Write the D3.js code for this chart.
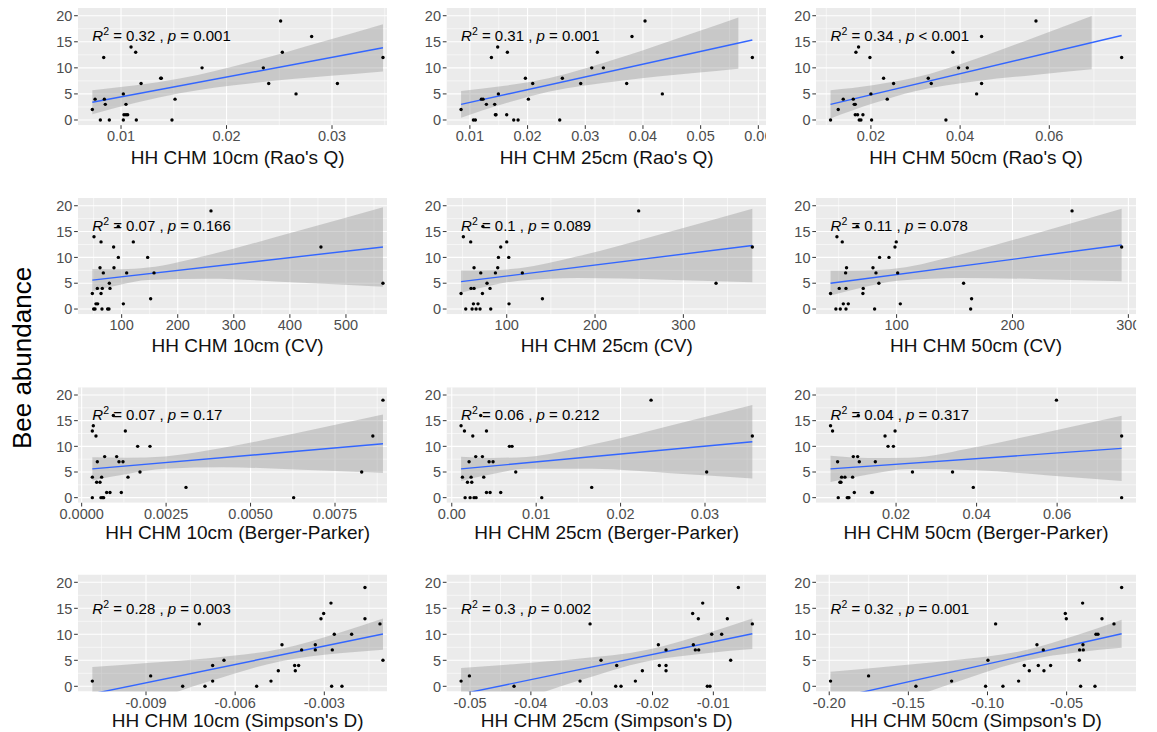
<!DOCTYPE html>
<html><head><meta charset="utf-8">
<script src="https://cdn.jsdelivr.net/npm/d3@7"></script>
<style>body{margin:0;background:#fff} svg{display:block}</style>
</head><body>
<svg id="chart" width="1157" height="732"></svg>
<script>
// ---------------- DATA ----------------
const yTicks = [0, 5, 10, 15, 20];
const yLabel = "Bee abundance";
const resolutions = ["10cm", "25cm", "50cm"];
const metrics = ["Rao's Q", "CV", "Berger-Parker", "Simpson's D"];

// Rao's Q
const rao10 = [[0.00728,2],[0.00754,4],[0.00804,0],[0.00836,12],[0.00842,4],[0.00851,3],[0.00889,0],[0.01022,5],[0.01022,0],[0.01028,1],[0.01047,3],[0.01047,1],[0.01063,1],[0.01095,14],[0.01139,13],[0.01145,0],[0.0119,7],[0.01376,8],[0.01382,8],[0.01483,0],[0.01512,4],[0.01768,10],[0.02349,10],[0.024,7],[0.02513,19],[0.02529,13],[0.02659,5],[0.02807,16],[0.03051,7],[0.03483,12]];
const rao25 = [[0.00847,2],[0.01061,0],[0.01095,0],[0.01199,4],[0.01228,4],[0.01286,3],[0.01373,12],[0.0143,3],[0.01453,1],[0.01442,1],[0.01482,14],[0.01494,5],[0.01638,1],[0.0165,13],[0.0176,0],[0.01835,0],[0.01962,8],[0.02014,4],[0.02089,7],[0.02557,0],[0.02603,8],[0.02921,7],[0.03112,10],[0.0321,13],[0.03314,10],[0.03718,7],[0.0381,16],[0.04036,19],[0.04336,5],[0.05896,12]];
const rao50 = [[0.01095,0],[0.01267,2],[0.01379,4],[0.01604,4],[0.01626,3],[0.01649,3],[0.01664,13],[0.01649,1],[0.01701,1],[0.01723,14],[0.01738,0],[0.01776,0],[0.01821,1],[0.01978,12],[0.02,5],[0.02015,0],[0.02284,8],[0.02366,4],[0.02508,7],[0.03286,8],[0.03353,7],[0.03682,0],[0.03839,13],[0.03966,10],[0.04161,10],[0.0437,5],[0.04482,16],[0.04482,7],[0.05701,19],[0.07622,12]];
// CV
const cv10 = [[47.7,3],[50.1,0],[52.5,0],[50.7,14],[54.2,1],[57.2,1],[56.6,4],[61.4,8],[63.2,13],[63.2,3],[65.5,4],[64.9,0],[67.3,7],[75,0],[77.4,0],[78,5],[79.2,4],[85.7,12],[86.3,8],[94.1,10],[103,1],[108.9,7],[120.8,13],[146.4,10],[151.7,2],[157.7,7],[259.3,19],[455.4,12],[566,5],[94,16]];
const cv25 = [[48.3,3],[50.9,14],[53.6,0],[59.2,13],[59.6,4],[63,4],[60.8,0],[63,8],[62.3,1],[65.3,0],[67.5,1],[69.8,0],[70.6,7],[72.5,3],[77.7,5],[81.1,4],[81.9,0],[87.2,7],[89.8,8],[90.6,10],[93.2,12],[100,13],[102.3,10],[102.6,1],[117.7,7],[140.4,2],[249.4,19],[337,5],[378.1,12],[73,16]];
const cv50 = [[43,3],[47.6,0],[48.5,14],[50.5,4],[51.4,0],[53.1,13],[54,1],[56,7],[56.3,4],[56.8,8],[56.3,0],[58.3,1],[71.2,4],[70.9,3],[79.6,8],[81,0],[82.2,7],[84.7,5],[85.3,10],[93.4,10],[98.6,12],[99.7,13],[100.9,7],[103.2,1],[157.8,5],[164.7,2],[163.9,0],[251.4,19],[294.2,12],[66,16]];
// Berger-Parker
const bp10 = [[0.000316,0],[0.000316,4],[0.000316,13],[0.000345,14],[0.000424,12],[0.000444,3],[0.000464,7],[0.000543,3],[0.000592,4],[0.000572,0],[0.000622,0],[0.000651,0],[0.000681,8],[0.00074,1],[0.000839,1],[0.001036,8],[0.001105,7],[0.001224,7],[0.001174,1],[0.001293,13],[0.001372,4],[0.000938,16],[0.001658,10],[0.001727,5],[0.002023,10],[0.003089,2],[0.006276,0],[0.00829,5],[0.00862,12],[0.00892,19]];
const bp25 = [[0.0011,14],[0.00126,4],[0.0015,13],[0.00158,0],[0.00186,3],[0.00205,7],[0.00217,0],[0.00237,3],[0.00229,4],[0.00249,12],[0.00264,0],[0.00288,0],[0.00284,8],[0.00343,16],[0.00363,8],[0.00379,4],[0.00411,13],[0.00411,1],[0.00454,1],[0.00442,7],[0.00489,7],[0.0058,1],[0.00683,10],[0.00714,10],[0.00758,5],[0.01066,0],[0.01658,2],[0.02361,19],[0.0302,5],[0.03561,12]];
const bp50 = [[0.00373,14],[0.00423,13],[0.00548,7],[0.00564,0],[0.00606,3],[0.00631,3],[0.00647,4],[0.0073,4],[0.00788,0],[0.00809,0],[0.0083,0],[0.00921,4],[0.00938,8],[0.00963,1],[0.01046,8],[0.01087,7],[0.01394,1],[0.01411,1],[0.01485,7],[0.01726,12],[0.01801,10],[0.01934,10],[0.01975,13],[0.02407,5],[0.03402,5],[0.03917,2],[0.05983,19],[0.07602,12],[0.07602,0],[0.01062,16]];
// Simpson's D
const sd10 = [[-0.010806,1],[-0.008843,2],[-0.007766,0],[-0.007206,12],[-0.007015,0],[-0.006757,4],[-0.006757,1],[-0.006376,5],[-0.005277,0],[-0.004794,1],[-0.004548,3],[-0.004424,8],[-0.003998,4],[-0.003976,3],[-0.003864,4],[-0.003763,7],[-0.003303,7],[-0.003303,8],[-0.003112,13],[-0.003022,14],[-0.002776,16],[-0.002731,7],[-0.002753,0],[-0.002664,10],[-0.002406,0],[-0.00208,10],[-0.001632,19],[-0.001632,13],[-0.001127,12],[-0.001026,5]];
const sd25 = [[-0.05148,1],[-0.05011,2],[-0.04277,0],[-0.03192,1],[-0.03027,12],[-0.02847,5],[-0.02605,0],[-0.02589,4],[-0.02518,0],[-0.02282,1],[-0.02167,3],[-0.01904,8],[-0.01888,4],[-0.01778,7],[-0.01778,4],[-0.01778,3],[-0.0134,14],[-0.01329,8],[-0.01296,7],[-0.01241,7],[-0.01247,13],[-0.01175,16],[-0.01099,0],[-0.01055,0],[-0.01027,10],[-0.00863,10],[-0.0077,13],[-0.00715,5],[-0.00589,19],[-0.00359,12]];
const sd50 = [[-0.19916,1],[-0.17514,2],[-0.14522,0],[-0.12268,1],[-0.1012,0],[-0.09972,5],[-0.09487,12],[-0.09024,0],[-0.08034,1],[-0.07676,4],[-0.0736,3],[-0.06875,8],[-0.06791,4],[-0.06475,7],[-0.06433,3],[-0.06011,4],[-0.05084,14],[-0.05021,13],[-0.042,5],[-0.04179,7],[-0.04115,0],[-0.03989,16],[-0.03968,8],[-0.03947,7],[-0.03209,0],[-0.03146,10],[-0.0302,10],[-0.02767,13],[-0.02009,12],[-0.01524,19]];

// Fitted lines (start, end)
const rao10Fit = [[0.00728,3.4],[0.03483,13.85]];
const rao25Fit = [[0.00847,3.0],[0.05896,15.35]];
const rao50Fit = [[0.01095,3.0],[0.07622,16.2]];
const cv10Fit = [[47.7,5.6],[566,12.0]];
const cv25Fit = [[48.3,5.3],[378.1,12.3]];
const cv50Fit = [[43,5.0],[294.2,12.4]];
const bp10Fit = [[0.000316,5.6],[0.00892,10.5]];
const bp25Fit = [[0.0011,5.6],[0.03561,10.9]];
const bp50Fit = [[0.00373,5.6],[0.07602,9.6]];
const sd10Fit = [[-0.010806,-1.45],[-0.001026,10.05]];
const sd25Fit = [[-0.05148,-1.5],[-0.00359,10.1]];
const sd50Fit = [[-0.19916,-2.5],[-0.01524,10.1]];

// Confidence bands [x, lower, upper]
const rao10Band = [[0.00728,1.08,5.72],[0.01141,3.29,6.65],[0.01555,5.14,7.94],[0.02243,7.07,11.23],[0.02932,8.37,15.15],[0.03483,9.32,18.38]];
const rao25Band = [[0.00847,0.45,5.55],[0.01604,3.15,6.55],[0.02362,5.41,8.01],[0.03624,7.55,12.03],[0.04886,9.01,16.75],[0.05654,9.84,19.68]];
const rao50Band = [[0.01095,0.3,5.7],[0.02074,3.25,6.71],[0.02988,5.53,8.13],[0.04359,7.45,11.75],[0.05664,8.65,15.83],[0.0695,9.72,19.96]];
const cv10Band = [[47.7,3.45,7.75],[99.5,4.77,7.71],[146.2,5.62,8.02],[255,5.85,10.47],[410.5,5.15,15.01],[566,4.3,19.7]];
const cv25Band = [[48.3,3.15,7.45],[81.3,4.5,7.5],[114.3,5.5,7.9],[180.2,6.0,10.2],[279.2,5.68,14.72],[378.1,5.2,19.4]];
const cv50Band = [[43,2.6,7.4],[73.1,4.33,7.45],[100.8,5.5,7.9],[156,6.03,10.63],[223.9,5.79,14.87],[294.2,5.4,19.4]];
const bp10Band = [[0.000316,3.35,7.85],[0.001348,4.62,7.76],[0.002467,5.63,8.03],[0.004188,5.92,9.7],[0.006511,5.46,12.8],[0.00892,4.8,16.2]];
const bp25Band = [[0.0011,3.25,7.95],[0.004551,4.51,7.75],[0.008865,5.64,7.94],[0.01663,5.64,10.34],[0.02595,4.77,14.07],[0.03561,3.75,18.05]];
const bp50Band = [[0.00373,3.05,8.15],[0.01313,4.5,7.74],[0.02325,5.58,7.78],[0.03988,5.34,9.86],[0.05795,4.34,12.86],[0.07602,3.25,15.95]];
const sd10Band = [[-0.010806,-6.6,3.7],[-0.00885,-2.81,4.51],[-0.006894,0.9,5.4],[-0.004498,4.77,7.17],[-0.002493,6.34,10.32],[-0.001026,7.05,13.05]];
const sd25Band = [[-0.05148,-6.5,3.5],[-0.0419,-2.71,4.35],[-0.03232,1.0,5.28],[-0.02083,4.82,7.02],[-0.01077,6.42,10.3],[-0.00359,7.15,13.05]];
const sd50Band = [[-0.19916,-7.8,2.8],[-0.16238,-3.78,3.82],[-0.12191,0.59,4.99],[-0.07501,5.01,7.01],[-0.04283,6.53,9.89],[-0.01524,7.4,12.8]];

// x-axis ticks and their labels
const rao10Ticks = [0.01,0.02,0.03];            const rao10TickLabels = ["0.01","0.02","0.03"];
const rao25Ticks = [0.01,0.02,0.03,0.04,0.05,0.06]; const rao25TickLabels = ["0.01","0.02","0.03","0.04","0.05","0.06"];
const rao50Ticks = [0.02,0.04,0.06];            const rao50TickLabels = ["0.02","0.04","0.06"];
const cv10Ticks = [100,200,300,400,500];        const cv10TickLabels = ["100","200","300","400","500"];
const cv25Ticks = [100,200,300];                const cv25TickLabels = ["100","200","300"];
const cv50Ticks = [100,200,300];                const cv50TickLabels = ["100","200","300"];
const bp10Ticks = [0,0.0025,0.005,0.0075];      const bp10TickLabels = ["0.0000","0.0025","0.0050","0.0075"];
const bp25Ticks = [0,0.01,0.02,0.03];           const bp25TickLabels = ["0.00","0.01","0.02","0.03"];
const bp50Ticks = [0.02,0.04,0.06];             const bp50TickLabels = ["0.02","0.04","0.06"];
const sd10Ticks = [-0.009,-0.006,-0.003];       const sd10TickLabels = ["-0.009","-0.006","-0.003"];
const sd25Ticks = [-0.05,-0.04,-0.03,-0.02,-0.01]; const sd25TickLabels = ["-0.05","-0.04","-0.03","-0.02","-0.01"];
const sd50Ticks = [-0.2,-0.15,-0.1,-0.05];      const sd50TickLabels = ["-0.20","-0.15","-0.10","-0.05"];

// regression statistics
const statR2 = ["0.32","0.31","0.34","0.07","0.1","0.11","0.07","0.06","0.04","0.28","0.3","0.32"];
const statP  = ["= 0.001","= 0.001","< 0.001","= 0.166","= 0.089","= 0.078","= 0.17","= 0.212","= 0.317","= 0.003","= 0.002","= 0.001"];

// ---------------- PANELS ----------------
const panelData = [
  [rao10, rao10Fit, rao10Band, rao10Ticks, rao10TickLabels],
  [rao25, rao25Fit, rao25Band, rao25Ticks, rao25TickLabels],
  [rao50, rao50Fit, rao50Band, rao50Ticks, rao50TickLabels],
  [cv10, cv10Fit, cv10Band, cv10Ticks, cv10TickLabels],
  [cv25, cv25Fit, cv25Band, cv25Ticks, cv25TickLabels],
  [cv50, cv50Fit, cv50Band, cv50Ticks, cv50TickLabels],
  [bp10, bp10Fit, bp10Band, bp10Ticks, bp10TickLabels],
  [bp25, bp25Fit, bp25Band, bp25Ticks, bp25TickLabels],
  [bp50, bp50Fit, bp50Band, bp50Ticks, bp50TickLabels],
  [sd10, sd10Fit, sd10Band, sd10Ticks, sd10TickLabels],
  [sd25, sd25Fit, sd25Band, sd25Ticks, sd25TickLabels],
  [sd50, sd50Fit, sd50Band, sd50Ticks, sd50TickLabels]
];

// layout
const colLayout = [{l:77.8, r:397.5, crop:387}, {l:446.5, r:766.9, crop:766}, {l:816, r:1136.2, crop:1137}];
const rowLayout = [{top:7.9, bottom:125.2, labY:16.2}, {top:198, bottom:314.2, labY:16.2}, {top:387.3, bottom:502.8, labY:16.2}, {top:574.5, bottom:691.5, labY:15.0}];
const titleOffset = [32, 31, 29.5, 28.5];
const yDomain = [-1, 21.5];

const font = "'Liberation Sans', Arial, Helvetica, sans-serif";
const svg = d3.select('#chart').style('font-family', font);
const defs = svg.append('defs');

panelData.forEach((pd, i) => {
  const [pts, fit, band, ticks, tickLabels] = pd;
  const row = Math.floor(i / 3), col = i % 3;
  const C = colLayout[col], R = rowLayout[row];
  const ext = d3.extent(pts, d => d[0]);
  const pad = (ext[1] - ext[0]) * 0.05;
  const x = d3.scaleLinear().domain([ext[0] - pad, ext[1] + pad]).range([C.l, C.r]);
  const y = d3.scaleLinear().domain(yDomain).range([R.bottom, R.top]);
  const visR = Math.min(C.r, C.crop);

  const cid = 'clip' + i, cid2 = 'clipx' + i;
  defs.append('clipPath').attr('id', cid).append('rect')
    .attr('x', C.l).attr('y', R.top).attr('width', visR - C.l).attr('height', R.bottom - R.top);
  defs.append('clipPath').attr('id', cid2).append('rect')
    .attr('x', C.l - 40).attr('y', R.top).attr('width', visR - C.l + 40).attr('height', R.bottom - R.top + 30);

  const g = svg.append('g');
  const plot = g.append('g').attr('clip-path', `url(#${cid})`);
  plot.append('rect').attr('x', C.l).attr('y', R.top).attr('width', visR - C.l).attr('height', R.bottom - R.top).attr('fill', '#EBEBEB');

  // minor grid
  const step = ticks[1] - ticks[0];
  const xMinor = [];
  for (let k = -1; k < ticks.length; k++) {
    const v = ticks[0] + step * (k + 0.5);
    const dm = x.domain();
    if (v > dm[0] && v < dm[1]) xMinor.push(v);
  }
  const yMinor = [2.5, 7.5, 12.5, 17.5];
  plot.selectAll('.xmin').data(xMinor).enter().append('line')
    .attr('x1', d => x(d)).attr('x2', d => x(d)).attr('y1', R.top).attr('y2', R.bottom)
    .attr('stroke', '#fff').attr('stroke-width', 0.55);
  plot.selectAll('.ymin').data(yMinor).enter().append('line')
    .attr('x1', C.l).attr('x2', visR).attr('y1', d => y(d)).attr('y2', d => y(d))
    .attr('stroke', '#fff').attr('stroke-width', 0.55);
  plot.selectAll('.xmaj').data(ticks).enter().append('line')
    .attr('x1', d => x(d)).attr('x2', d => x(d)).attr('y1', R.top).attr('y2', R.bottom)
    .attr('stroke', '#fff').attr('stroke-width', 1.1);
  plot.selectAll('.ymaj').data(yTicks).enter().append('line')
    .attr('x1', C.l).attr('x2', visR).attr('y1', d => y(d)).attr('y2', d => y(d))
    .attr('stroke', '#fff').attr('stroke-width', 1.1);

  // ribbon
  const area = d3.area().x(d => x(d[0])).y0(d => y(d[1])).y1(d => y(d[2])).curve(d3.curveMonotoneX);
  plot.append('path').datum(band).attr('d', area).attr('fill', '#999999').attr('fill-opacity', 0.42);
  // fit line
  const line = d3.line().x(d => x(d[0])).y(d => y(d[1]));
  plot.append('path').datum(fit).attr('d', line).attr('fill', 'none').attr('stroke', '#3366FF').attr('stroke-width', 1.4);
  // points
  plot.selectAll('circle').data(pts).enter().append('circle')
    .attr('cx', d => x(d[0])).attr('cy', d => y(d[1])).attr('r', 1.7).attr('fill', '#000');

  // stat label
  const lab = plot.append('text').attr('x', x(ext[0])).attr('y', y(R.labY)).attr('dy', '0.36em')
    .attr('font-size', 15).attr('fill', '#000');
  lab.append('tspan').attr('font-style', 'italic').text('R');
  lab.append('tspan').attr('font-size', 10.5).attr('dy', -6).text('2');
  lab.append('tspan').attr('dy', 6).text(' = ' + statR2[i] + ' , ');
  lab.append('tspan').attr('font-style', 'italic').text('p');
  lab.append('tspan').text(' ' + statP[i]);

  // y axis
  const ya = g.append('g');
  ya.selectAll('line').data(yTicks).enter().append('line')
    .attr('x1', C.l - 3.7).attr('x2', C.l).attr('y1', d => y(d)).attr('y2', d => y(d))
    .attr('stroke', '#333').attr('stroke-width', 1);
  ya.selectAll('text').data(yTicks).enter().append('text')
    .attr('x', C.l - 5.5).attr('y', d => y(d)).attr('dy', '0.36em').attr('text-anchor', 'end')
    .attr('font-size', 14.5).attr('fill', '#4D4D4D').text(d => d);

  // x axis
  const xa = g.append('g').attr('clip-path', `url(#${cid2})`);
  xa.selectAll('line').data(ticks).enter().append('line')
    .attr('x1', d => x(d)).attr('x2', d => x(d)).attr('y1', R.bottom).attr('y2', R.bottom + 3.7)
    .attr('stroke', '#333').attr('stroke-width', 1);
  xa.selectAll('text').data(ticks).enter().append('text')
    .attr('x', d => x(d)).attr('y', R.bottom + 5).attr('dy', '0.76em').attr('text-anchor', 'middle')
    .attr('font-size', 14.5).attr('fill', '#4D4D4D').text((d, k) => tickLabels[k]);

  // x title
  g.append('text').attr('x', (C.l + C.r) / 2).attr('y', R.bottom + titleOffset[row]).attr('dy', '0.35em')
    .attr('text-anchor', 'middle').attr('font-size', 19).attr('fill', '#111')
    .text(`HH CHM ${resolutions[col]} (${metrics[row]})`);
});

// y title
svg.append('text').attr('transform', 'translate(22,358) rotate(-90)').attr('dy', '0.35em')
  .attr('text-anchor', 'middle').attr('font-size', 26).attr('fill', '#000').text(yLabel);
</script>
</body></html>
